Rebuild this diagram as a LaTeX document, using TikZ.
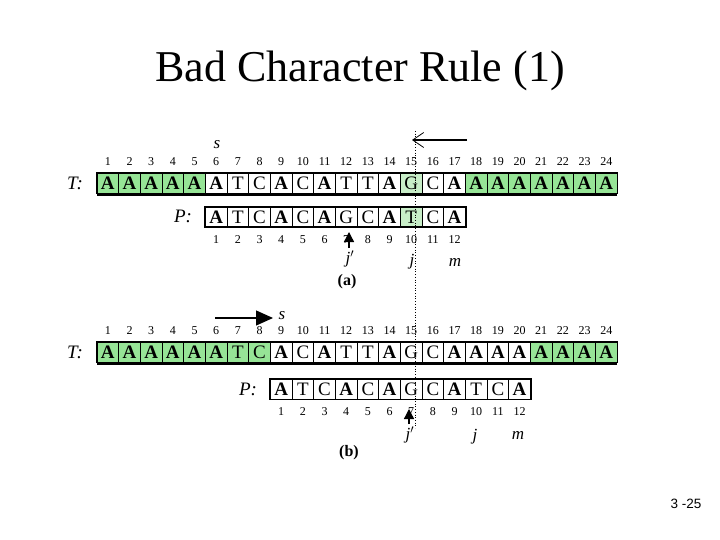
\documentclass[tikz,border=0pt]{standalone}
\usepackage{fontspec}
\setmainfont{Liberation Serif}
\newfontfamily\sansf{Liberation Sans}
\usetikzlibrary{arrows.meta}
\definecolor{cellgreen}{RGB}{150,228,150}
\definecolor{palegreen}{RGB}{200,238,200}
\begin{document}
\begin{tikzpicture}[x=1pt,y=-1pt,
  cellbox/.style={draw, line width=0.8pt, minimum width=21.67pt, minimum height=20pt, inner sep=0pt, font=\fontsize{19}{19}\selectfont},
  numlbl/.style={inner sep=0pt, font=\fontsize{12}{12}\selectfont},
  varlbl/.style={inner sep=0pt, font=\fontsize{17}{17}\selectfont\itshape},
  partlbl/.style={inner sep=0pt, font=\fontsize{16}{16}\selectfont\bfseries},
  rowlbl/.style={inner sep=0pt, font=\fontsize{19}{19}\selectfont\itshape},
  uparrow/.style={line width=1.3pt, -{Triangle[length=10pt,width=10pt]}},
]
\useasboundingbox (0,0) rectangle (720,540);
\def\Ab{\textbf{A}}
\def\w{21.67}
% title
\node (title) at (360,71) {\fontsize{44}{44}\selectfont Bad Character Rule (1)};
% ---------- (a) ----------
\foreach \i in {1,...,5,18,19,...,24}{\fill[cellgreen] ({97+(\i-1)*\w},173) rectangle ({97+\i*\w},193);}
\fill[palegreen] ({97+14*\w},173) rectangle ({97+15*\w},193);
\foreach \c [count=\i] in {\Ab,\Ab,\Ab,\Ab,\Ab,\Ab,T,C,\Ab,C,\Ab,T,T,\Ab,G,C,\Ab,\Ab,\Ab,\Ab,\Ab,\Ab,\Ab,\Ab}{
  \node[cellbox] (ta\i) at ({97+(\i-0.5)*\w},183) {\c};
  \node[numlbl] (nta\i) at ({97+(\i-0.5)*\w},162) {\i};
}
\draw[line width=1.2pt] (ta1.north west) rectangle (ta24.south east);
\draw[line width=2.6pt] ([yshift=-1pt]ta1.south west) -- ([yshift=-1pt]ta24.south east);
\node[rowlbl] (Ta) at (75,183) {T:};
\node[varlbl] (sa) at (217,145) {s};
% P (a)
\fill[palegreen] ({97+14*\w},207) rectangle ({97+15*\w},227);
\foreach \c [count=\i] in {\Ab,T,C,\Ab,C,\Ab,G,C,\Ab,T,C,\Ab}{
  \node[cellbox] (pa\i) at ({97+(\i+4.5)*\w},217) {\c};
  \node[numlbl] (npa\i) at ({97+(\i+4.5)*\w},240) {\i};
}
\draw[line width=1.8pt] (pa1.north west) rectangle (pa12.south east);
\node[rowlbl] (Pa) at (183,216) {P:};
\coordinate (aa1) at (349,248);
\coordinate (aa2) at (349,232);
\draw[uparrow] (aa1) -- (aa2);
\node[varlbl] (jpa) at (350,259) {j$'$};
\node[varlbl] (ja) at (412,262) {j};
\node[varlbl] (ma) at (455,262) {m};
\node[partlbl] (lbla) at (347,282) {(a)};
\coordinate (ta1s) at (467,140);
\coordinate (ta1e) at (412,140);
\draw[line width=1.8pt, -{Straight Barb[length=11pt,width=15pt,line width=0.8pt]}] (ta1s) -- (ta1e);
% ---------- (b) ----------
\foreach \i in {1,...,8,21,22,23,24}{\fill[cellgreen] ({97+(\i-1)*\w},342) rectangle ({97+\i*\w},362);}
\foreach \c [count=\i] in {\Ab,\Ab,\Ab,\Ab,\Ab,\Ab,T,C,\Ab,C,\Ab,T,T,\Ab,G,C,\Ab,\Ab,\Ab,\Ab,\Ab,\Ab,\Ab,\Ab}{
  \node[cellbox] (tb\i) at ({97+(\i-0.5)*\w},352) {\c};
  \node[numlbl] (ntb\i) at ({97+(\i-0.5)*\w},331) {\i};
}
\draw[line width=1.2pt] (tb1.north west) rectangle (tb24.south east);
\draw[line width=2.6pt] ([yshift=-1pt]tb1.south west) -- ([yshift=-1pt]tb24.south east);
\node[rowlbl] (Tb) at (75,352) {T:};
\node[varlbl] (sb) at (282,316) {s};
\coordinate (tb1s) at (215,318);
\coordinate (tb1e) at (273,318);
\draw[line width=1.2pt, -{Triangle[length=17pt,width=15pt]}] (tb1s) -- (tb1e);
% P (b)
\foreach \c [count=\i] in {\Ab,T,C,\Ab,C,\Ab,G,C,\Ab,T,C,\Ab}{
  \node[cellbox] (pb\i) at ({97+(\i+7.5)*\w},389) {\c};
  \node[numlbl] (npb\i) at ({97+(\i+7.5)*\w},412) {\i};
}
\draw[line width=1.8pt] (pb1.north west) rectangle (pb12.south east);
\node[rowlbl] (Pb) at (248,389) {P:};
\coordinate (ab1) at (409,424);
\coordinate (ab2) at (409,409);
\draw[uparrow] (ab1) -- (ab2);
\node[varlbl] (jpb) at (410,435) {j$'$};
\node[varlbl] (jb) at (475,437) {j};
\node[varlbl] (mb) at (518,435) {m};
\node[partlbl] (lblb) at (349,453) {(b)};
% dotted guide
\coordinate (d1) at (415,131);
\coordinate (d2) at (415,428);
\draw[dotted, line width=0.7pt] (d1) -- (d2);
% page number
\node[inner sep=0pt, font=\sansf\fontsize{13.5}{13.5}\selectfont] (pg) at (686,504) {3 -25};
\end{tikzpicture}
\end{document}
